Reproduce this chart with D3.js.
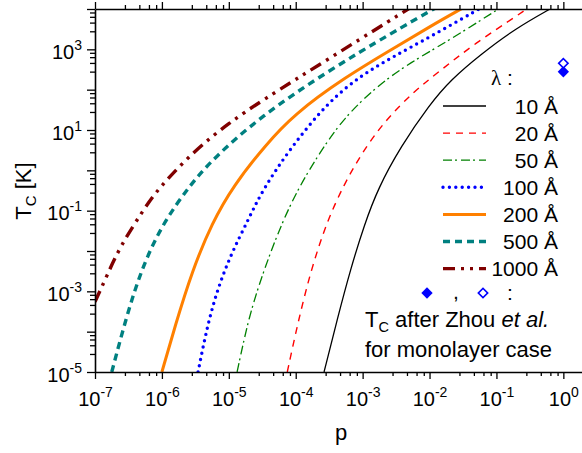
<!DOCTYPE html>
<html><head><meta charset="utf-8">
<script src="https://cdn.jsdelivr.net/npm/d3@7"></script>
<style>
body{margin:0;background:#fff}
svg{display:block}
text{font-family:"Liberation Sans",Arial,sans-serif;fill:#000}
</style>
</head><body>
<svg id="chart" width="582" height="453"></svg>
<script>
// ---- data ----
const seriesLabels = ["10 Å", "20 Å", "50 Å", "100 Å", "200 Å", "500 Å", "1000 Å"];

const p10   = [2.65e-4, 4.21e-4, 6.65e-4, 1.06e-3, 1.70e-3, 3.72e-3, 1.0e-2, 2.09e-2, 5.89e-2, 0.186, 0.631, 0.794];
const tc10  = [1e-5, 2.14e-4, 3.72e-3, 4.47e-2, 0.36, 3.9, 42.7, 178, 759, 3160, 1.0e4, 1.23e4];

const p20   = [7.48e-5, 1.06e-4, 1.67e-4, 2.95e-4, 5.25e-4, 9.33e-4, 2.09e-3, 5.89e-3, 1.32e-2, 4.68e-2, 0.234, 0.316];
const tc20  = [1e-5, 1.48e-4, 3.2e-3, 5.6e-2, 0.437, 2.40, 16.2, 91.2, 263, 1380, 7940, 1.15e4];

const p50   = [1.33e-5, 2.0e-5, 3.16e-5, 5.25e-5, 1.0e-4, 2.34e-4, 5.25e-4, 1.66e-3, 5.25e-3, 1.86e-2, 0.107, 0.141];
const tc50  = [1e-5, 2.40e-4, 2.51e-3, 2.51e-2, 0.282, 2.95, 20.0, 126, 479, 1580, 1.0e4, 1.32e4];

const p100  = [3.47e-6, 4.47e-6, 6.31e-6, 1.06e-5, 2.0e-5, 3.16e-5, 8.32e-5, 2.95e-4, 9.33e-4, 2.95e-3, 1.0e-2, 5.5e-2, 7.94e-2];
const tc100 = [1e-5, 8.32e-5, 8.13e-4, 7.94e-3, 6.46e-2, 0.316, 3.55, 46.8, 224, 676, 2000, 1.0e4, 1.41e4];

const p200  = [1.0e-6, 1.58e-6, 2.82e-6, 5.62e-6, 1.17e-5, 3.55e-5, 9.33e-5, 5.25e-4, 2.95e-3, 1.0e-2, 2.95e-2, 3.98e-2];
const tc200 = [1e-5, 1.41e-4, 3.16e-3, 5.0e-2, 0.417, 4.27, 24.0, 195, 1070, 3630, 1.0e4, 1.32e4];

const p500  = [1.78e-7, 2.99e-7, 5.01e-7, 1.0e-6, 2.65e-6, 5.94e-6, 2.98e-5, 2.95e-4, 2.95e-3, 1.0e-2, 1.41e-2];
const tc500 = [1e-5, 2.57e-4, 3.72e-3, 4.47e-2, 0.44, 2.0, 21.6, 282, 2750, 8710, 1.2e4];

const p1000  = [1.0e-7, 1.50e-7, 2.37e-7, 5.30e-7, 8.91e-7, 3.16e-6, 1.0e-5, 2.98e-5, 2.95e-4, 2.95e-3, 6.31e-3];
const tc1000 = [5.5e-4, 2.4e-3, 1.29e-2, 0.105, 0.363, 3.24, 14.8, 51.3, 550, 6030, 1.32e4];

const markerP  = [1, 1];
const markerTc = [278, 452];

const xTicks = [1e-7, 1e-6, 1e-5, 1e-4, 1e-3, 1e-2, 1e-1, 1e0];
const xTickExp = ["-7", "-6", "-5", "-4", "-3", "-2", "-1", "0"];
const yTicks = [1e-5, 1e-4, 1e-3, 1e-2, 1e-1, 1e0, 1e1, 1e2, 1e3, 1e4];
const yLabelTicks = [1e-5, 1e-3, 1e-1, 1e1, 1e3];
const yTickExp = ["-5", "-3", "-1", "1", "3"];
const minorMultipliers = [2.8, 4.6, 6.4, 8.2];

// ---- styles ----
const styles = [
  {color: "#000000", width: 1.3, dash: null, cap: "butt"},
  {color: "#ff0000", width: 1.4, dash: "7,6", cap: "butt"},
  {color: "#008000", width: 1.3, dash: "9,3,2,4", cap: "butt"},
  {color: "#0000ff", width: 3.4, dash: "0,6.4", cap: "round"},
  {color: "#ff8000", width: 3.0, dash: null, cap: "butt"},
  {color: "#008080", width: 3.4, dash: "7,5", cap: "butt"},
  {color: "#800000", width: 3.4, dash: "12,6,3,6,3,6", cap: "butt"}
];

const seriesP  = [p10, p20, p50, p100, p200, p500, p1000];
const seriesTc = [tc10, tc20, tc50, tc100, tc200, tc500, tc1000];

// ---- layout ----
const L = 95, R = 582, T = 9, B = 372;
const svg = d3.select("#chart");
const x = d3.scaleLog().domain([1e-7, 1.9]).range([L, R]);
const y = d3.scaleLog().domain([1e-5, 1e4]).range([B, T]);

function minorsFor(majors) {
  const out = [];
  majors.forEach(m => minorMultipliers.forEach(k => out.push(m * k)));
  return out;
}
const xMinor = minorsFor([1e-7,1e-6,1e-5,1e-4,1e-3,1e-2,1e-1,1e0]).filter(v => v <= 1.9);
const yMinor = minorsFor([1e-5,1e-4,1e-3,1e-2,1e-1,1e0,1e1,1e2,1e3]);

// ---- curves ----
svg.append("clipPath").attr("id", "clip").append("rect")
  .attr("x", L).attr("y", T).attr("width", R - L).attr("height", B - T);
const gCurves = svg.append("g").attr("clip-path", "url(#clip)");
const line = d3.line().x(d => x(d[0])).y(d => y(d[1])).curve(d3.curveBasis);
seriesP.forEach((ps, i) => {
  const pts = ps.map((p, j) => [p, seriesTc[i][j]]);
  const s = styles[i];
  gCurves.append("path").datum(pts).attr("d", line)
    .attr("fill", "none").attr("stroke", s.color).attr("stroke-width", s.width)
    .attr("stroke-dasharray", s.dash).attr("stroke-linecap", s.cap).attr("stroke-linejoin", "round");
});

// ---- axes ----
function styleAxis(g) {
  g.selectAll("path.domain").attr("stroke", "#000").attr("stroke-width", 1.6);
  g.selectAll(".tick line").attr("stroke", "#000").attr("stroke-width", 1.3);
}
// bottom
const gxB = svg.append("g").attr("transform", `translate(0,${B})`)
  .call(d3.axisBottom(x).tickValues(xTicks).tickSize(7).tickSizeOuter(0).tickFormat(() => ""));
styleAxis(gxB);
gxB.selectAll(".tick text").each(function(d, i) {
  const t = d3.select(this).attr("y", 34).attr("dy", null)
    .attr("font-size", 20).attr("text-anchor", "middle").attr("fill", "#000");
  t.append("tspan").text("10");
  t.append("tspan").attr("dy", -9).attr("font-size", 14).text(xTickExp[i]);
});
const gxBm = svg.append("g").attr("transform", `translate(0,${B})`)
  .call(d3.axisBottom(x).tickValues(xMinor).tickSize(4).tickSizeOuter(0).tickFormat(() => ""));
gxBm.select("path.domain").remove(); styleAxis(gxBm);
// top
const gxT = svg.append("g").attr("transform", `translate(0,${T})`)
  .call(d3.axisTop(x).tickValues(xTicks).tickSize(7).tickSizeOuter(0).tickFormat(() => ""));
styleAxis(gxT);
const gxTm = svg.append("g").attr("transform", `translate(0,${T})`)
  .call(d3.axisTop(x).tickValues(xMinor).tickSize(4).tickSizeOuter(0).tickFormat(() => ""));
gxTm.select("path.domain").remove(); styleAxis(gxTm);
// left
const gyL = svg.append("g").attr("transform", `translate(${L},0)`)
  .call(d3.axisLeft(y).tickValues(yTicks).tickSize(8).tickSizeOuter(0).tickFormat(() => ""));
styleAxis(gyL);
gyL.selectAll(".tick text").each(function(d) {
  const k = yLabelTicks.indexOf(d);
  if (k < 0) return;
  const t = d3.select(this).attr("x", -13).attr("y", 9).attr("dy", null)
    .attr("font-size", 20).attr("text-anchor", "end").attr("fill", "#000");
  t.append("tspan").text("10");
  t.append("tspan").attr("dy", -9).attr("font-size", 14).text(yTickExp[k]);
});
const gyLm = svg.append("g").attr("transform", `translate(${L},0)`)
  .call(d3.axisLeft(y).tickValues(yMinor).tickSize(5).tickSizeOuter(0).tickFormat(() => ""));
gyLm.select("path.domain").remove(); styleAxis(gyLm);

// ---- axis titles ----
const yt = svg.append("text").attr("transform", "translate(31,191) rotate(-90)")
  .attr("text-anchor", "middle").attr("font-size", 22);
yt.append("tspan").text("T");
yt.append("tspan").attr("font-size", 15).attr("dy", 5).text("C");
yt.append("tspan").attr("dy", -5).text(" [K]");
svg.append("text").attr("x", 341).attr("y", 440).attr("text-anchor", "middle")
  .attr("font-size", 22).text("p");

// ---- markers ----
const diamondFilled = d3.symbol().type(d3.symbolSquare).size(64)();
const diamondOpen = d3.symbol().type(d3.symbolSquare).size(44)();
svg.append("path").attr("d", diamondFilled)
  .attr("transform", `translate(${x(markerP[0])},${y(markerTc[0])}) rotate(45)`)
  .attr("fill", "#0000ff");
svg.append("path").attr("d", diamondOpen)
  .attr("transform", `translate(${x(markerP[1])},${y(markerTc[1])}) rotate(45)`)
  .attr("fill", "#fff").attr("stroke", "#0000ff").attr("stroke-width", 1.6);

// ---- legend ----
const lg = svg.append("g");
const lam = lg.append("text").attr("x", 491).attr("y", 85).attr("font-size", 21);
lam.append("tspan").attr("font-family", "Liberation Serif, DejaVu Serif, serif").text("λ");
lam.append("tspan").text(" :");
seriesLabels.forEach((lab, i) => {
  const yy = 106 + i * 27.1;
  const s = styles[i];
  lg.append("line").attr("x1", 443).attr("x2", 486).attr("y1", yy).attr("y2", yy)
    .attr("stroke", s.color).attr("stroke-width", s.width)
    .attr("stroke-dasharray", s.dash).attr("stroke-linecap", s.cap);
  lg.append("text").attr("x", 558).attr("y", yy + 7.5).attr("text-anchor", "end")
    .attr("font-size", 21).text(lab);
});
// marker key
lg.append("path").attr("d", diamondFilled).attr("transform", "translate(427,293) rotate(45)").attr("fill", "#0000ff");
lg.append("text").attr("x", 453).attr("y", 299).attr("font-size", 21).text(",");
lg.append("path").attr("d", diamondOpen).attr("transform", "translate(483,293) rotate(45)")
  .attr("fill", "#fff").attr("stroke", "#0000ff").attr("stroke-width", 1.6);
lg.append("text").attr("x", 507).attr("y", 300).attr("font-size", 21).text(":");
const note = lg.append("text").attr("x", 365).attr("y", 327).attr("font-size", 22);
note.append("tspan").text("T");
note.append("tspan").attr("font-size", 14.5).attr("dy", 5).text("C");
note.append("tspan").attr("dy", -5).text(" after Zhou ");
note.append("tspan").attr("font-style", "italic").text("et al.");
lg.append("text").attr("x", 365).attr("y", 357).attr("font-size", 22).text("for monolayer case");
</script>
</body></html>
